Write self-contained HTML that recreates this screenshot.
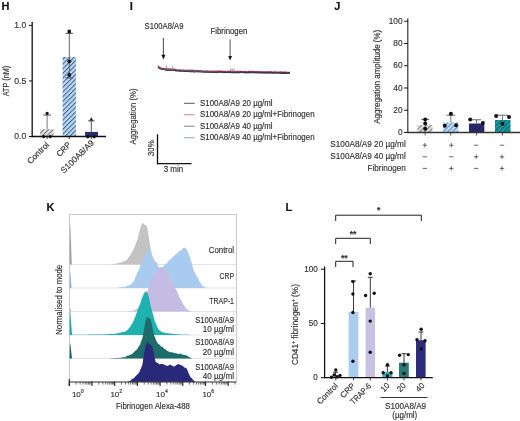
<!DOCTYPE html><html><head><meta charset="utf-8"><style>html,body{margin:0;padding:0;background:#fff;width:520px;height:421px;overflow:hidden}svg{display:block;filter:blur(0.4px)}text{font-family:"Liberation Sans",sans-serif;stroke:currentColor;stroke-width:0.15px}</style></head><body>
<svg width="520" height="421" viewBox="0 0 520 421">
<rect width="520" height="421" fill="#fff"/>
<defs>
<pattern id="hg" patternUnits="userSpaceOnUse" width="3.3" height="3.3" patternTransform="rotate(45)"><rect width="3.3" height="3.3" fill="#e2e2e2"/><rect x="0" y="0" width="1.1" height="3.3" fill="#777777"/></pattern>
<pattern id="hb" patternUnits="userSpaceOnUse" width="3.3" height="3.3" patternTransform="rotate(45)"><rect width="3.3" height="3.3" fill="#c0daf5"/><rect x="0" y="0" width="1.1" height="3.3" fill="#41658f"/></pattern>
<pattern id="jg" patternUnits="userSpaceOnUse" width="3.3" height="3.3" patternTransform="rotate(45)"><rect width="3.3" height="3.3" fill="#e4e4e4"/><rect x="0" y="0" width="1.3" height="3.3" fill="#8a8a8a"/></pattern>
<pattern id="jb" patternUnits="userSpaceOnUse" width="3.3" height="3.3" patternTransform="rotate(45)"><rect width="3.3" height="3.3" fill="#c8def3"/><rect x="0" y="0" width="1.3" height="3.3" fill="#6a98cf"/></pattern>
<pattern id="jn" patternUnits="userSpaceOnUse" width="3.3" height="3.3" patternTransform="rotate(45)"><rect width="3.3" height="3.3" fill="#2e2c72"/><rect x="0" y="0" width="1.3" height="3.3" fill="#23215a"/></pattern>
<pattern id="jt" patternUnits="userSpaceOnUse" width="3.3" height="3.3" patternTransform="rotate(45)"><rect width="3.3" height="3.3" fill="#1b9ea3"/><rect x="0" y="0" width="1.3" height="3.3" fill="#0f6a70"/></pattern>
</defs>
<text x="1.5" y="10" font-size="11" text-anchor="start" fill="#111" color="#111" font-weight="bold">H</text>
<line x1="32.20" y1="22.00" x2="32.20" y2="137.20" stroke="#111" stroke-width="1.3"/>
<line x1="29.00" y1="25.40" x2="32.20" y2="25.40" stroke="#111" stroke-width="1"/>
<text x="26.300000000000004" y="28.0" font-size="9.03" text-anchor="end" fill="#303030" color="#303030" textLength="11.95" lengthAdjust="spacingAndGlyphs">1.0</text>
<line x1="29.00" y1="80.95" x2="32.20" y2="80.95" stroke="#111" stroke-width="1"/>
<text x="26.300000000000004" y="83.55" font-size="9.03" text-anchor="end" fill="#303030" color="#303030" textLength="11.95" lengthAdjust="spacingAndGlyphs">0.5</text>
<line x1="29.00" y1="136.50" x2="32.20" y2="136.50" stroke="#111" stroke-width="1"/>
<text x="26.300000000000004" y="139.1" font-size="9.03" text-anchor="end" fill="#303030" color="#303030" textLength="11.95" lengthAdjust="spacingAndGlyphs">0.0</text>
<text transform="translate(9.2,81) rotate(-90)" x="0" y="0" font-size="8.61" text-anchor="middle" fill="#303030" color="#303030" textLength="30.5" lengthAdjust="spacingAndGlyphs">ATP (nM)</text>
<rect x="40.1" y="129.2" width="13.5" height="7.3" fill="url(#hg)"/>
<rect x="62.6" y="57" width="13.3" height="79.5" fill="url(#hb)"/>
<rect x="85.1" y="131.9" width="12.9" height="4.6" fill="#2b2b6e"/>
<line x1="47.10" y1="129.20" x2="47.10" y2="115.10" stroke="#777" stroke-width="1"/>
<line x1="43.30" y1="115.10" x2="50.90" y2="115.10" stroke="#555" stroke-width="1"/>
<circle cx="47.1" cy="113.3" r="1.6" fill="#111"/>
<line x1="69.30" y1="75.00" x2="69.30" y2="33.40" stroke="#666" stroke-width="1"/>
<line x1="65.60" y1="33.40" x2="73.00" y2="33.40" stroke="#555" stroke-width="1"/>
<line x1="65.60" y1="77.90" x2="73.00" y2="77.90" stroke="#2c3f5c" stroke-width="1"/>
<rect x="67.6" y="29.8" width="3.3" height="3.3" fill="#111"/>
<circle cx="69.3" cy="61.3" r="1.9" fill="#111"/>
<circle cx="69.3" cy="75" r="1.9" fill="#111"/>
<line x1="91.30" y1="131.90" x2="91.30" y2="120.90" stroke="#555" stroke-width="1"/>
<line x1="88.20" y1="120.90" x2="94.60" y2="120.90" stroke="#444" stroke-width="1"/>
<polygon points="91.3,117.2 89.5,120.4 93.1,120.4" fill="#111"/>
<line x1="31.50" y1="136.50" x2="106.00" y2="136.50" stroke="#111" stroke-width="1.4"/>
<line x1="47.10" y1="136.50" x2="47.10" y2="139.00" stroke="#111" stroke-width="0.8"/>
<line x1="69.30" y1="136.50" x2="69.30" y2="139.00" stroke="#111" stroke-width="0.8"/>
<line x1="91.30" y1="136.50" x2="91.30" y2="139.00" stroke="#111" stroke-width="0.8"/>
<circle cx="43.7" cy="136.6" r="1.6" fill="#111"/>
<circle cx="50.2" cy="136.6" r="1.6" fill="#111"/>
<circle cx="87.8" cy="136.8" r="1.6" fill="#111"/>
<circle cx="94.2" cy="136.8" r="1.6" fill="#111"/>
<text transform="translate(49.7,145.3) rotate(-45)" x="0" y="0" font-size="8.4" text-anchor="end" fill="#303030" color="#303030" textLength="27.3" lengthAdjust="spacingAndGlyphs">Control</text>
<text transform="translate(71.6,145.3) rotate(-45)" x="0" y="0" font-size="8.4" text-anchor="end" fill="#303030" color="#303030" textLength="16.89" lengthAdjust="spacingAndGlyphs">CRP</text>
<text transform="translate(94.5,143.4) rotate(-45)" x="0" y="0" font-size="8.4" text-anchor="end" fill="#303030" color="#303030" textLength="43" lengthAdjust="spacingAndGlyphs">S100A8/A9</text>
<text x="129.8" y="10" font-size="11" text-anchor="start" fill="#111" color="#111" font-weight="bold">I</text>
<text x="144.5" y="29.0" font-size="8.19" text-anchor="start" fill="#303030" color="#303030" textLength="39" lengthAdjust="spacingAndGlyphs">S100A8/A9</text>
<text x="210.5" y="33.9" font-size="8.19" text-anchor="start" fill="#303030" color="#303030" textLength="36.8" lengthAdjust="spacingAndGlyphs">Fibrinogen</text>
<line x1="163.40" y1="38.00" x2="163.40" y2="56.00" stroke="#555" stroke-width="1.1"/>
<polygon points="163.4,59.4 161.3,54.7 165.5,54.7" fill="#1a1a1a"/>
<line x1="230.10" y1="39.60" x2="230.10" y2="57.00" stroke="#666" stroke-width="1.1"/>
<polygon points="230.1,60.6 228.2,55.9 232.1,55.9" fill="#1a1a1a"/>
<polyline points="159.00,66.91 160.20,67.62 161.40,68.15 162.60,68.45 163.80,68.53 165.00,68.85 166.20,68.40 167.40,68.75 168.60,69.12 169.80,69.03 171.00,69.26 172.20,68.87 173.40,69.17 174.60,69.12 175.80,69.37 177.00,69.46" fill="none" stroke="#d9545c" stroke-width="1.1" stroke-opacity="0.9" stroke-linejoin="round"/>
<polyline points="158.00,66.56 159.20,67.30 160.40,67.97 161.60,68.71 162.80,68.85 164.00,68.75 165.20,69.26 166.40,69.02 167.60,69.34 168.80,69.18 170.00,69.20 171.20,69.72 172.40,69.47 173.60,69.56 174.80,70.03 176.00,70.05 177.20,69.83 178.40,70.23 179.60,70.10 180.80,70.24 182.00,70.07 183.20,70.51 184.40,70.46 185.60,70.66 186.80,70.67 188.00,70.42 189.20,70.50 190.40,70.45 191.60,70.49 192.80,70.49 194.00,70.66 195.20,70.86 196.40,70.61 197.60,70.99 198.80,70.87 200.00,70.90 201.20,71.21 202.40,71.09 203.60,71.05 204.80,71.18 206.00,71.32 207.20,71.01 208.40,71.49 209.60,71.04 210.80,71.42 212.00,71.48 213.20,71.09 214.40,71.49 215.60,71.30 216.80,71.43 218.00,71.16 219.20,71.20 220.40,71.29 221.60,71.69 222.80,71.33 224.00,71.63 225.20,71.74 226.40,71.76 227.60,71.48 228.80,71.51 230.00,71.61 231.20,71.75 232.40,71.44 233.60,71.77 234.80,71.81 236.00,71.86 237.20,71.46 238.40,71.93 239.60,71.52 240.80,71.66 242.00,71.82 243.20,71.99 244.40,71.71 245.60,72.02 246.80,71.85 248.00,71.75 249.20,71.76 250.40,71.71 251.60,71.68 252.80,71.73 254.00,72.01 255.20,72.18 256.40,71.78 257.60,71.74 258.80,72.23 260.00,72.02 261.20,71.97 262.40,71.90 263.60,72.09 264.80,72.23 266.00,72.06 267.20,72.06 268.40,71.89 269.60,72.33 270.80,71.91 272.00,72.15 273.20,72.34 274.40,72.00 275.60,72.32 276.80,72.45 278.00,72.30 279.20,72.40 280.40,72.07 281.60,72.25 282.80,72.12 284.00,72.49 285.20,72.23 286.40,72.32 287.60,72.61 288.80,72.55 290.00,72.63" fill="none" stroke="#d24a55" stroke-width="1.8" stroke-opacity="0.9" stroke-linejoin="round"/>
<polyline points="158.00,67.32 159.20,67.98 160.40,68.79 161.60,69.04 162.80,69.12 164.00,69.41 165.20,69.42 166.40,69.66 167.60,70.17 168.80,70.24 170.00,70.09 171.20,70.08 172.40,70.05 173.60,69.96 174.80,70.18 176.00,70.61 177.20,70.74 178.40,70.46 179.60,70.83 180.80,70.89 182.00,70.91 183.20,70.96 184.40,71.10 185.60,70.88 186.80,71.17 188.00,70.92 189.20,71.11 190.40,71.35 191.60,71.35 192.80,71.12 194.00,71.62 195.20,71.46 196.40,71.46 197.60,71.11 198.80,71.53 200.00,71.38 201.20,71.72 202.40,71.62 203.60,71.92 204.80,71.85 206.00,71.97 207.20,71.68 208.40,71.91 209.60,71.99 210.80,72.07 212.00,71.76 213.20,72.12 214.40,72.16 215.60,72.05 216.80,72.27 218.00,72.28 219.20,71.99 220.40,72.02 221.60,71.78 222.80,72.27 224.00,72.36 225.20,72.06 226.40,72.23 227.60,72.27 228.80,72.29 230.00,71.92 231.20,72.36 232.40,72.24 233.60,72.31 234.80,72.16 236.00,72.32 237.20,72.44 238.40,72.36 239.60,72.43 240.80,71.96 242.00,72.07 243.20,72.28 244.40,72.45 245.60,72.16 246.80,72.50 248.00,72.48 249.20,72.09 250.40,72.40 251.60,72.25 252.80,72.14 254.00,72.21 255.20,72.36 256.40,72.28 257.60,72.30 258.80,72.21 260.00,72.53 261.20,72.48 262.40,72.66 263.60,72.66 264.80,72.43 266.00,72.91 267.20,72.29 268.40,72.59 269.60,72.52 270.80,72.63 272.00,72.44 273.20,72.96 274.40,72.65 275.60,72.43 276.80,72.85 278.00,72.50 279.20,72.83 280.40,72.71 281.60,72.89 282.80,73.17 284.00,73.09 285.20,72.82 286.40,73.12 287.60,73.01 288.80,72.84 290.00,72.69" fill="none" stroke="#3b2f45" stroke-width="1.7" stroke-opacity="0.9" stroke-linejoin="round"/>
<polyline points="165.00,70.06 166.20,70.12 167.40,70.44 168.60,70.53 169.80,70.40 171.00,70.33 172.20,70.74 173.40,70.29 174.60,70.44 175.80,70.79 177.00,70.89 178.20,70.68 179.40,71.04 180.60,71.27 181.80,71.03 183.00,71.14 184.20,71.09 185.40,71.19 186.60,71.65 187.80,71.34 189.00,71.74 190.20,71.76 191.40,71.61 192.60,71.46 193.80,71.94 195.00,71.70 196.20,71.70 197.40,71.69 198.60,72.13 199.80,71.89 201.00,71.81 202.20,71.97 203.40,71.81 204.60,72.16 205.80,72.08 207.00,72.01 208.20,72.32 209.40,72.37 210.60,71.90 211.80,72.23 213.00,72.09 214.20,72.51 215.40,72.44 216.60,72.13 217.80,72.17 219.00,72.12 220.20,72.64 221.40,72.24 222.60,72.45 223.80,72.39 225.00,72.51 226.20,72.50 227.40,72.60 228.60,72.25 229.80,72.65 231.00,72.39 232.20,72.55 233.40,72.45 234.60,72.44 235.80,72.60 237.00,72.57 238.20,72.53 239.40,72.77 240.60,72.70 241.80,72.38 243.00,72.52 244.20,72.66 245.40,72.96 246.60,72.95 247.80,72.76 249.00,72.46 250.20,72.94 251.40,72.74 252.60,72.85 253.80,72.94 255.00,72.91 256.20,72.84 257.40,73.11 258.60,72.81 259.80,72.83 261.00,73.12 262.20,72.75 263.40,72.82 264.60,73.16 265.80,72.72 267.00,73.19 268.20,73.12 269.40,72.98 270.60,72.91 271.80,73.22 273.00,73.32 274.20,72.87 275.40,73.09 276.60,73.15 277.80,73.13 279.00,73.05 280.20,72.96 281.40,73.23 282.60,73.38 283.80,72.95 285.00,73.07 286.20,73.44 287.40,73.43 288.60,73.37 289.80,73.01" fill="none" stroke="#303048" stroke-width="0.9" stroke-opacity="0.6" stroke-linejoin="round"/>
<polyline points="158.00,67.23 159.20,68.03 160.40,68.68 161.60,68.93 162.80,68.74 164.00,69.43 165.20,69.25 166.40,69.59 167.60,69.85 168.80,69.79 170.00,69.53 171.20,69.71 172.40,70.17 173.60,69.79 174.80,70.15 176.00,70.11 177.20,70.03 178.40,70.38 179.60,70.10 180.80,70.21 182.00,70.45 183.20,70.34 184.40,70.40 185.60,70.77 186.80,70.92 188.00,71.05 189.20,70.65 190.40,70.88 191.60,70.85 192.80,71.07 194.00,71.05 195.20,71.37 196.40,71.08 197.60,70.94 198.80,71.37 200.00,71.09 201.20,71.43 202.40,71.40 203.60,71.69 204.80,71.52 206.00,71.59 207.20,71.39 208.40,71.59 209.60,71.43 210.80,71.74 212.00,71.62 213.20,71.41 214.40,71.49" fill="none" stroke="#6a9998" stroke-width="0.8" stroke-opacity="0.5" stroke-linejoin="round"/>
<line x1="158.30" y1="67.16" x2="158.30" y2="65.16" stroke="#555" stroke-width="0.7"/>
<line x1="166.50" y1="69.41" x2="166.50" y2="65.41" stroke="#777" stroke-width="0.7"/>
<line x1="172.50" y1="69.83" x2="172.50" y2="65.83" stroke="#7aa9a8" stroke-width="0.7"/>
<line x1="230.60" y1="71.81" x2="230.60" y2="68.41" stroke="#8a6f73" stroke-width="0.7"/>
<line x1="232.20" y1="71.83" x2="232.20" y2="68.43" stroke="#8a6f73" stroke-width="0.7"/>
<line x1="234.10" y1="71.85" x2="234.10" y2="68.45" stroke="#8a6f73" stroke-width="0.7"/>
<line x1="184.00" y1="103.30" x2="194.60" y2="103.30" stroke="#444" stroke-width="0.9"/>
<text x="200" y="105.89999999999999" font-size="8.29" text-anchor="start" fill="#303030" color="#303030" textLength="72.62" lengthAdjust="spacingAndGlyphs">S100A8/A9 20 µg/ml</text>
<line x1="184.00" y1="114.70" x2="194.60" y2="114.70" stroke="#dba3a6" stroke-width="1.4"/>
<text x="200" y="117.3" font-size="8.29" text-anchor="start" fill="#303030" color="#303030" textLength="114.56" lengthAdjust="spacingAndGlyphs">S100A8/A9 20 µg/ml+Fibrinogen</text>
<line x1="184.00" y1="126.20" x2="194.60" y2="126.20" stroke="#74749a" stroke-width="0.9"/>
<text x="200" y="128.8" font-size="8.29" text-anchor="start" fill="#303030" color="#303030" textLength="72.62" lengthAdjust="spacingAndGlyphs">S100A8/A9 40 µg/ml</text>
<line x1="184.00" y1="137.70" x2="194.60" y2="137.70" stroke="#a9c2bd" stroke-width="1.4"/>
<text x="200" y="140.29999999999998" font-size="8.29" text-anchor="start" fill="#303030" color="#303030" textLength="114.56" lengthAdjust="spacingAndGlyphs">S100A8/A9 40 µg/ml+Fibrinogen</text>
<text transform="translate(136.4,116.5) rotate(-90)" x="0" y="0" font-size="8.19" text-anchor="middle" fill="#303030" color="#303030" textLength="56" lengthAdjust="spacingAndGlyphs">Aggregation (%)</text>
<line x1="157.50" y1="134.30" x2="157.50" y2="164.30" stroke="#111" stroke-width="1.3"/>
<line x1="156.90" y1="163.70" x2="191.50" y2="163.70" stroke="#111" stroke-width="1.3"/>
<text transform="translate(153.8,148.2) rotate(-90)" x="0" y="0" font-size="8.19" text-anchor="middle" fill="#303030" color="#303030" textLength="15.61" lengthAdjust="spacingAndGlyphs">30%</text>
<text x="163.7" y="172.4" font-size="8.19" text-anchor="start" fill="#303030" color="#303030" textLength="19.5" lengthAdjust="spacingAndGlyphs">3 min</text>
<text x="334.2" y="9.8" font-size="11" text-anchor="start" fill="#111" color="#111" font-weight="bold">J</text>
<line x1="407.80" y1="18.20" x2="407.80" y2="133.00" stroke="#333" stroke-width="1.2"/>
<line x1="404.20" y1="132.50" x2="407.80" y2="132.50" stroke="#111" stroke-width="1"/>
<text x="402.59999999999997" y="135.1" font-size="8.72" text-anchor="end" fill="#303030" color="#303030" textLength="4.62" lengthAdjust="spacingAndGlyphs">0</text>
<line x1="404.20" y1="110.25" x2="407.80" y2="110.25" stroke="#111" stroke-width="1"/>
<text x="402.59999999999997" y="112.85" font-size="8.72" text-anchor="end" fill="#303030" color="#303030" textLength="9.23" lengthAdjust="spacingAndGlyphs">20</text>
<line x1="404.20" y1="88.00" x2="407.80" y2="88.00" stroke="#111" stroke-width="1"/>
<text x="402.59999999999997" y="90.6" font-size="8.72" text-anchor="end" fill="#303030" color="#303030" textLength="9.23" lengthAdjust="spacingAndGlyphs">40</text>
<line x1="404.20" y1="65.75" x2="407.80" y2="65.75" stroke="#111" stroke-width="1"/>
<text x="402.59999999999997" y="68.35" font-size="8.72" text-anchor="end" fill="#303030" color="#303030" textLength="9.23" lengthAdjust="spacingAndGlyphs">60</text>
<line x1="404.20" y1="43.50" x2="407.80" y2="43.50" stroke="#111" stroke-width="1"/>
<text x="402.59999999999997" y="46.1" font-size="8.72" text-anchor="end" fill="#303030" color="#303030" textLength="9.23" lengthAdjust="spacingAndGlyphs">80</text>
<line x1="404.20" y1="21.25" x2="407.80" y2="21.25" stroke="#111" stroke-width="1"/>
<text x="402.59999999999997" y="23.85" font-size="8.72" text-anchor="end" fill="#303030" color="#303030" textLength="13.85" lengthAdjust="spacingAndGlyphs">100</text>
<text transform="translate(380.4,76.8) rotate(-90)" x="0" y="0" font-size="8.19" text-anchor="middle" fill="#303030" color="#303030" textLength="94" lengthAdjust="spacingAndGlyphs">Aggregation amplitude (%)</text>
<rect x="417.5" y="125" width="15" height="7.5" fill="url(#jg)"/>
<rect x="443" y="122.5" width="15.3" height="10" fill="url(#jb)"/>
<rect x="469" y="123.5" width="15.3" height="9" fill="url(#jn)"/>
<rect x="495" y="120" width="15.5" height="12.5" fill="url(#jt)"/>
<line x1="425.20" y1="125.00" x2="425.20" y2="119.40" stroke="#777" stroke-width="1"/>
<line x1="421.20" y1="119.40" x2="429.20" y2="119.40" stroke="#666" stroke-width="1"/>
<line x1="450.80" y1="122.50" x2="450.80" y2="115.20" stroke="#777" stroke-width="1"/>
<line x1="446.50" y1="115.20" x2="455.20" y2="115.20" stroke="#666" stroke-width="1"/>
<line x1="476.50" y1="123.50" x2="476.50" y2="119.80" stroke="#777" stroke-width="1"/>
<line x1="470.50" y1="119.80" x2="481.00" y2="119.80" stroke="#666" stroke-width="1"/>
<line x1="502.50" y1="120.00" x2="502.50" y2="115.20" stroke="#777" stroke-width="1"/>
<line x1="497.00" y1="115.20" x2="508.00" y2="115.20" stroke="#666" stroke-width="1"/>
<circle cx="425.2" cy="119.4" r="2.0" fill="#111"/>
<circle cx="425.2" cy="123.5" r="2.0" fill="#111"/>
<circle cx="425.2" cy="128.7" r="2.0" fill="#111"/>
<circle cx="450.9" cy="113.7" r="2.0" fill="#111"/>
<circle cx="444.8" cy="125.8" r="2.0" fill="#111"/>
<circle cx="456.1" cy="125.2" r="2.0" fill="#111"/>
<circle cx="470.2" cy="119.4" r="2.0" fill="#111"/>
<circle cx="482.8" cy="122.9" r="2.0" fill="#111"/>
<circle cx="496.1" cy="116" r="2.0" fill="#111"/>
<circle cx="509" cy="116.9" r="2.0" fill="#111"/>
<circle cx="502.5" cy="123.8" r="2.0" fill="#111"/>
<line x1="407.20" y1="132.50" x2="520.00" y2="132.50" stroke="#333" stroke-width="1.3"/>
<line x1="425.20" y1="132.50" x2="425.20" y2="135.50" stroke="#333" stroke-width="0.8"/>
<line x1="450.80" y1="132.50" x2="450.80" y2="135.50" stroke="#333" stroke-width="0.8"/>
<line x1="476.50" y1="132.50" x2="476.50" y2="135.50" stroke="#333" stroke-width="0.8"/>
<line x1="502.50" y1="132.50" x2="502.50" y2="135.50" stroke="#333" stroke-width="0.8"/>
<line x1="422.60" y1="145.20" x2="427.00" y2="145.20" stroke="#444" stroke-width="0.8"/>
<line x1="424.80" y1="143.00" x2="424.80" y2="147.40" stroke="#444" stroke-width="0.8"/>
<line x1="449.10" y1="145.20" x2="453.50" y2="145.20" stroke="#444" stroke-width="0.8"/>
<line x1="451.30" y1="143.00" x2="451.30" y2="147.40" stroke="#444" stroke-width="0.8"/>
<line x1="474.00" y1="145.20" x2="478.40" y2="145.20" stroke="#444" stroke-width="0.8"/>
<line x1="499.80" y1="145.20" x2="504.20" y2="145.20" stroke="#444" stroke-width="0.8"/>
<line x1="422.60" y1="156.80" x2="427.00" y2="156.80" stroke="#444" stroke-width="0.8"/>
<line x1="449.10" y1="156.80" x2="453.50" y2="156.80" stroke="#444" stroke-width="0.8"/>
<line x1="474.00" y1="156.80" x2="478.40" y2="156.80" stroke="#444" stroke-width="0.8"/>
<line x1="476.20" y1="154.60" x2="476.20" y2="159.00" stroke="#444" stroke-width="0.8"/>
<line x1="499.80" y1="156.80" x2="504.20" y2="156.80" stroke="#444" stroke-width="0.8"/>
<line x1="502.00" y1="154.60" x2="502.00" y2="159.00" stroke="#444" stroke-width="0.8"/>
<line x1="422.60" y1="168.40" x2="427.00" y2="168.40" stroke="#444" stroke-width="0.8"/>
<line x1="449.10" y1="168.40" x2="453.50" y2="168.40" stroke="#444" stroke-width="0.8"/>
<line x1="451.30" y1="166.20" x2="451.30" y2="170.60" stroke="#444" stroke-width="0.8"/>
<line x1="474.00" y1="168.40" x2="478.40" y2="168.40" stroke="#444" stroke-width="0.8"/>
<line x1="499.80" y1="168.40" x2="504.20" y2="168.40" stroke="#444" stroke-width="0.8"/>
<line x1="502.00" y1="166.20" x2="502.00" y2="170.60" stroke="#444" stroke-width="0.8"/>
<text x="405.8" y="147.4" font-size="8.61" text-anchor="end" fill="#303030" color="#303030" textLength="75.5" lengthAdjust="spacingAndGlyphs">S100A8/A9 20 µg/ml</text>
<text x="405.8" y="159.1" font-size="8.61" text-anchor="end" fill="#303030" color="#303030" textLength="75.5" lengthAdjust="spacingAndGlyphs">S100A8/A9 40 µg/ml</text>
<text x="405.8" y="170.6" font-size="8.61" text-anchor="end" fill="#303030" color="#303030" textLength="38.2" lengthAdjust="spacingAndGlyphs">Fibrinogen</text>
<text x="46.4" y="210.8" font-size="11" text-anchor="start" fill="#111" color="#111" font-weight="bold">K</text>
<rect x="69.5" y="214.5" width="167" height="167.5" fill="none" stroke="#c9c9c9" stroke-width="1"/>
<line x1="69.50" y1="264.50" x2="236.50" y2="264.50" stroke="#dcdcdc" stroke-width="0.8"/>
<line x1="69.50" y1="288.00" x2="236.50" y2="288.00" stroke="#dcdcdc" stroke-width="0.8"/>
<line x1="69.50" y1="311.50" x2="236.50" y2="311.50" stroke="#dcdcdc" stroke-width="0.8"/>
<line x1="69.50" y1="335.00" x2="236.50" y2="335.00" stroke="#dcdcdc" stroke-width="0.8"/>
<line x1="69.50" y1="358.50" x2="236.50" y2="358.50" stroke="#dcdcdc" stroke-width="0.8"/>
<polygon points="111.00,264.50 111.00,264.30 111.83,264.18 112.67,264.06 113.50,263.94 114.33,263.82 115.17,263.70 116.00,263.58 116.86,263.38 117.71,263.19 118.57,262.99 119.43,262.80 120.29,262.60 121.14,262.40 122.00,262.21 122.87,261.86 123.73,260.99 124.60,261.40 125.47,260.91 126.33,259.96 127.20,259.74 128.18,257.87 129.15,256.50 130.12,255.20 131.10,254.26 132.07,251.82 133.05,250.74 134.03,247.84 135.00,246.06 135.90,243.30 136.80,241.41 137.70,238.32 138.57,234.98 139.43,231.36 140.30,228.24 141.50,224.57 142.90,222.54 144.00,224.14 145.30,225.19 146.80,225.63 148.00,232.51 149.40,240.90 150.80,249.15 151.65,252.97 152.50,256.02 153.33,257.73 154.17,259.52 155.00,261.23 155.93,262.05 156.85,262.77 157.77,263.48 158.70,264.20 158.70,264.50" fill="#c3c3c3" fill-opacity="1"/>
<polygon points="118.00,288.00 118.00,287.80 118.86,287.69 119.71,287.57 120.57,287.46 121.43,287.34 122.29,287.23 123.14,287.11 124.00,287.00 124.86,286.71 125.71,286.43 126.57,286.14 127.43,285.86 128.29,285.57 129.14,284.90 130.00,284.95 130.80,284.50 131.60,283.63 132.40,282.86 133.20,281.73 134.00,281.33 134.88,278.91 135.75,276.29 136.62,274.58 137.50,272.00 138.50,270.48 139.50,267.99 140.50,264.82 141.57,262.69 142.63,261.09 143.70,258.37 144.63,256.28 145.57,254.22 146.50,252.33 147.60,251.39 148.70,250.51 149.60,250.43 150.50,252.00 151.57,254.39 152.63,257.61 153.70,260.35 154.52,261.00 155.35,262.91 156.18,263.71 157.00,264.96 158.00,266.05 159.00,267.13 160.00,267.57 161.00,266.83 162.00,267.21 163.00,266.96 164.07,265.28 165.13,264.58 166.20,263.85 167.15,263.09 168.10,261.19 169.05,260.61 170.00,260.02 170.83,258.87 171.67,258.24 172.50,257.55 173.33,256.51 174.17,255.52 175.00,255.10 175.80,254.33 176.60,253.43 177.40,253.29 178.20,252.05 179.00,251.48 179.88,251.09 180.75,250.45 181.62,249.83 182.50,248.87 183.33,247.86 184.17,247.95 185.00,247.45 186.50,249.24 187.60,251.64 188.70,253.71 189.85,257.34 191.00,261.09 191.90,263.61 192.80,267.19 193.70,270.40 194.52,271.38 195.35,273.78 196.18,275.48 197.00,276.58 198.00,278.34 199.00,280.77 200.00,282.19 201.00,283.62 202.00,285.30 203.00,286.50 204.00,286.93 205.00,287.37 206.00,287.80 206.00,288.00" fill="#a8cbef" fill-opacity="1"/>
<polygon points="127.50,311.50 127.50,311.30 128.42,311.21 129.33,311.12 130.25,311.04 131.17,310.95 132.08,310.86 133.00,310.77 133.90,310.41 134.80,310.05 135.70,309.69 136.60,309.33 137.50,308.58 138.38,308.04 139.25,306.49 140.12,306.03 141.00,304.85 142.00,302.95 143.00,301.54 144.00,299.82 144.88,297.11 145.75,295.51 146.62,293.47 147.50,291.22 148.50,288.09 149.50,284.40 150.50,281.24 151.50,278.30 152.38,276.89 153.25,276.33 154.12,274.90 155.00,273.51 156.00,272.21 157.00,271.17 158.00,269.76 159.07,269.30 160.13,268.07 161.20,267.80 162.02,268.28 162.85,268.79 163.68,268.80 164.50,269.10 165.50,270.45 166.50,271.92 167.50,272.81 168.32,274.96 169.15,276.50 169.98,278.36 170.80,280.81 171.77,281.68 172.73,283.42 173.70,285.53 174.52,287.01 175.35,288.21 176.18,289.77 177.00,291.07 178.00,293.54 179.00,296.00 180.00,298.15 181.00,299.94 182.00,301.75 183.00,304.26 184.07,305.36 185.13,307.21 186.20,309.13 187.02,309.24 187.85,309.75 188.68,310.26 189.50,310.77 190.50,310.98 191.50,311.19 192.50,311.40 192.50,311.50" fill="#c4bce2" fill-opacity="1"/>
<polygon points="72.00,335.00 72.00,334.80 72.80,334.79 73.60,334.78 74.40,334.77 75.20,334.77 76.00,334.76 76.80,334.75 77.60,334.74 78.40,334.73 79.20,334.72 80.00,334.71 80.80,334.71 81.60,334.70 82.40,334.69 83.20,334.68 84.00,334.67 84.80,334.66 85.60,334.65 86.40,334.65 87.20,334.64 88.00,334.63 88.80,334.62 89.60,334.61 90.40,334.60 91.20,334.59 92.00,334.59 92.80,334.58 93.60,334.57 94.40,334.56 95.20,334.55 96.00,334.54 96.80,334.53 97.60,334.53 98.40,334.52 99.20,334.51 100.00,334.50 100.83,334.46 101.67,334.42 102.50,334.38 103.33,334.34 104.17,334.31 105.00,334.27 105.83,334.23 106.67,334.19 107.50,334.15 108.33,334.11 109.17,334.07 110.00,334.03 110.83,333.99 111.67,333.96 112.50,333.92 113.33,333.88 114.17,333.84 115.00,333.80 115.86,333.63 116.71,333.46 117.57,333.29 118.43,333.11 119.29,332.94 120.14,332.77 121.00,332.60 121.80,331.99 122.60,332.11 123.40,332.24 124.20,331.95 125.00,331.76 126.00,330.76 127.00,330.50 128.00,329.54 129.00,327.99 130.00,327.35 131.00,325.10 132.00,324.28 133.00,322.49 134.00,319.52 135.00,317.19 135.83,315.56 136.67,312.81 137.50,310.65 138.33,308.32 139.17,306.17 140.00,304.14 141.00,301.51 142.00,297.68 143.00,296.00 144.00,293.06 144.85,292.54 145.70,291.55 146.50,291.48 147.30,292.66 148.15,294.84 149.00,297.46 150.50,304.89 151.45,309.05 152.40,312.57 153.45,315.91 154.50,320.38 155.33,322.62 156.17,324.04 157.00,326.44 158.00,328.15 159.00,329.94 160.00,330.59 160.83,331.36 161.67,332.12 162.50,332.02 163.33,332.44 164.17,332.50 165.00,332.80 165.88,332.93 166.75,333.05 167.62,333.18 168.50,333.30 169.38,333.43 170.25,333.55 171.12,333.68 172.00,333.80 172.80,333.87 173.60,333.94 174.40,334.01 175.20,334.08 176.00,334.15 176.80,334.22 177.60,334.29 178.40,334.36 179.20,334.43 180.00,334.50 180.83,334.53 181.67,334.57 182.50,334.60 183.33,334.63 184.17,334.67 185.00,334.70 185.83,334.73 186.67,334.77 187.50,334.80 188.33,334.83 189.17,334.87 190.00,334.90 190.00,335.00" fill="#1fb0b0" fill-opacity="1"/>
<polygon points="110.00,358.50 110.00,358.30 110.83,358.26 111.67,358.22 112.50,358.18 113.33,358.13 114.17,358.09 115.00,358.05 115.83,358.01 116.67,357.97 117.50,357.93 118.33,357.88 119.17,357.84 120.00,357.80 120.83,357.67 121.67,357.53 122.50,357.40 123.33,357.27 124.17,357.13 125.00,357.00 125.80,356.66 126.60,356.32 127.40,355.59 128.20,355.59 129.00,355.60 129.88,355.08 130.75,354.66 131.62,353.88 132.50,353.83 133.38,352.79 134.25,351.54 135.12,351.20 136.00,350.00 136.80,349.84 137.60,348.71 138.40,346.90 139.20,345.73 140.00,345.09 140.83,342.21 141.67,339.91 142.50,337.66 144.00,329.83 145.30,322.14 146.20,318.01 147.40,316.48 148.60,319.00 149.80,317.56 151.00,320.44 152.30,327.35 153.15,330.63 154.00,335.16 155.05,337.59 156.10,340.46 157.07,342.05 158.03,343.63 159.00,344.57 159.80,344.76 160.60,346.08 161.40,346.76 162.20,346.61 163.00,347.44 163.80,348.25 164.60,349.14 165.40,348.89 166.20,349.96 167.00,351.02 168.00,351.12 169.00,351.74 170.00,352.30 170.80,352.17 171.60,352.09 172.40,352.58 173.20,352.67 174.00,352.63 174.80,353.33 175.60,352.93 176.40,353.20 177.20,353.65 178.00,353.85 179.00,354.03 180.00,353.87 181.00,353.53 181.95,354.43 182.90,354.75 183.85,354.79 184.80,355.09 185.70,355.21 186.60,355.59 187.50,356.00 188.33,356.50 189.17,357.00 190.00,357.50 191.15,357.95 192.30,358.40 192.30,358.50" fill="#1d6c6c" fill-opacity="1"/>
<polygon points="128.00,382.00 128.00,381.60 129.00,381.19 130.00,380.77 131.00,380.36 132.07,379.10 133.13,378.49 134.20,377.94 135.10,376.82 136.00,375.85 136.90,374.89 137.80,373.92 138.80,373.12 139.80,371.09 140.80,368.78 141.70,366.40 142.60,363.76 143.70,355.54 144.60,350.58 145.50,346.34 146.70,343.16 147.90,342.13 149.00,343.91 150.30,344.41 151.15,344.97 152.00,346.43 153.00,349.47 153.80,353.89 154.80,358.69 155.60,361.70 157.10,362.65 157.90,363.04 158.70,363.65 159.50,364.55 160.30,363.87 161.10,364.28 161.90,364.05 162.77,364.12 163.63,364.31 164.50,365.02 165.32,365.34 166.15,365.45 166.98,365.87 167.80,365.93 168.70,365.14 169.60,364.76 170.50,364.81 171.32,365.22 172.15,365.78 172.98,366.27 173.80,366.51 174.90,366.13 176.00,365.22 176.83,364.83 177.67,364.55 178.50,363.81 179.30,364.54 180.10,365.01 180.90,365.01 182.50,365.67 183.45,366.47 184.40,367.48 185.20,367.82 186.00,368.14 186.80,368.42 188.00,371.67 189.20,374.47 190.00,376.13 190.80,377.54 191.60,377.88 192.75,379.50 193.90,380.60 195.00,381.80 195.00,382.00" fill="#29287a" fill-opacity="1"/>
<polygon points="69.6,264.5 69.9,224.5 70.3,224.5 71.79999999999998,264.5" fill="#a0a0a0"/>
<polygon points="69.6,288 69.9,272 70.3,272 71.6,288" fill="#8bb3e0"/>
<polygon points="69.6,311.5 69.9,308.5 70.3,308.5 71.39999999999999,311.5" fill="#b0a8d6"/>
<polygon points="69.6,335 69.9,312 70.3,312 71.99999999999999,335" fill="#17a5a5"/>
<polygon points="69.6,358.5 69.9,343.5 70.3,343.5 71.99999999999999,358.5" fill="#1a5f5f"/>
<text x="234" y="253.2" font-size="8.51" text-anchor="end" fill="#303030" color="#303030" textLength="25.2" lengthAdjust="spacingAndGlyphs">Control</text>
<text x="234" y="278.8" font-size="8.51" text-anchor="end" fill="#303030" color="#303030" textLength="14.5" lengthAdjust="spacingAndGlyphs">CRP</text>
<text x="234" y="303.7" font-size="8.51" text-anchor="end" fill="#303030" color="#303030" textLength="24.8" lengthAdjust="spacingAndGlyphs">TRAP-1</text>
<text x="234" y="322.5" font-size="8.51" text-anchor="end" fill="#303030" color="#303030" textLength="38.8" lengthAdjust="spacingAndGlyphs">S100A8/A9</text>
<text x="234" y="331.7" font-size="8.51" text-anchor="end" fill="#303030" color="#303030" textLength="31.23" lengthAdjust="spacingAndGlyphs">10 µg/ml</text>
<text x="234" y="345.3" font-size="8.51" text-anchor="end" fill="#303030" color="#303030" textLength="38.8" lengthAdjust="spacingAndGlyphs">S100A8/A9</text>
<text x="234" y="355" font-size="8.51" text-anchor="end" fill="#303030" color="#303030" textLength="31.23" lengthAdjust="spacingAndGlyphs">20 µg/ml</text>
<text x="234" y="370.2" font-size="8.51" text-anchor="end" fill="#303030" color="#303030" textLength="38.8" lengthAdjust="spacingAndGlyphs">S100A8/A9</text>
<text x="234" y="379" font-size="8.51" text-anchor="end" fill="#303030" color="#303030" textLength="31.23" lengthAdjust="spacingAndGlyphs">40 µg/ml</text>
<line x1="69.50" y1="382.00" x2="236.50" y2="382.00" stroke="#444" stroke-width="1.0"/>
<line x1="69.30" y1="381.50" x2="69.30" y2="386.00" stroke="#222" stroke-width="1.1"/>
<line x1="76.13" y1="382.00" x2="76.13" y2="384.60" stroke="#333" stroke-width="0.7"/>
<line x1="80.13" y1="382.00" x2="80.13" y2="384.60" stroke="#333" stroke-width="0.7"/>
<line x1="82.97" y1="382.00" x2="82.97" y2="384.60" stroke="#333" stroke-width="0.7"/>
<line x1="85.17" y1="382.00" x2="85.17" y2="384.60" stroke="#333" stroke-width="0.7"/>
<line x1="86.96" y1="382.00" x2="86.96" y2="384.60" stroke="#333" stroke-width="0.7"/>
<line x1="88.48" y1="382.00" x2="88.48" y2="384.60" stroke="#333" stroke-width="0.7"/>
<line x1="89.80" y1="382.00" x2="89.80" y2="384.60" stroke="#333" stroke-width="0.7"/>
<line x1="90.96" y1="382.00" x2="90.96" y2="384.60" stroke="#333" stroke-width="0.7"/>
<line x1="92.00" y1="381.50" x2="92.00" y2="386.00" stroke="#222" stroke-width="1.1"/>
<line x1="98.83" y1="382.00" x2="98.83" y2="384.60" stroke="#333" stroke-width="0.7"/>
<line x1="102.83" y1="382.00" x2="102.83" y2="384.60" stroke="#333" stroke-width="0.7"/>
<line x1="105.67" y1="382.00" x2="105.67" y2="384.60" stroke="#333" stroke-width="0.7"/>
<line x1="107.87" y1="382.00" x2="107.87" y2="384.60" stroke="#333" stroke-width="0.7"/>
<line x1="109.66" y1="382.00" x2="109.66" y2="384.60" stroke="#333" stroke-width="0.7"/>
<line x1="111.18" y1="382.00" x2="111.18" y2="384.60" stroke="#333" stroke-width="0.7"/>
<line x1="112.50" y1="382.00" x2="112.50" y2="384.60" stroke="#333" stroke-width="0.7"/>
<line x1="113.66" y1="382.00" x2="113.66" y2="384.60" stroke="#333" stroke-width="0.7"/>
<line x1="114.70" y1="381.50" x2="114.70" y2="386.00" stroke="#222" stroke-width="1.1"/>
<line x1="121.53" y1="382.00" x2="121.53" y2="384.60" stroke="#333" stroke-width="0.7"/>
<line x1="125.53" y1="382.00" x2="125.53" y2="384.60" stroke="#333" stroke-width="0.7"/>
<line x1="128.37" y1="382.00" x2="128.37" y2="384.60" stroke="#333" stroke-width="0.7"/>
<line x1="130.57" y1="382.00" x2="130.57" y2="384.60" stroke="#333" stroke-width="0.7"/>
<line x1="132.36" y1="382.00" x2="132.36" y2="384.60" stroke="#333" stroke-width="0.7"/>
<line x1="133.88" y1="382.00" x2="133.88" y2="384.60" stroke="#333" stroke-width="0.7"/>
<line x1="135.20" y1="382.00" x2="135.20" y2="384.60" stroke="#333" stroke-width="0.7"/>
<line x1="136.36" y1="382.00" x2="136.36" y2="384.60" stroke="#333" stroke-width="0.7"/>
<line x1="137.40" y1="381.50" x2="137.40" y2="386.00" stroke="#222" stroke-width="1.1"/>
<line x1="144.23" y1="382.00" x2="144.23" y2="384.60" stroke="#333" stroke-width="0.7"/>
<line x1="148.23" y1="382.00" x2="148.23" y2="384.60" stroke="#333" stroke-width="0.7"/>
<line x1="151.07" y1="382.00" x2="151.07" y2="384.60" stroke="#333" stroke-width="0.7"/>
<line x1="153.27" y1="382.00" x2="153.27" y2="384.60" stroke="#333" stroke-width="0.7"/>
<line x1="155.06" y1="382.00" x2="155.06" y2="384.60" stroke="#333" stroke-width="0.7"/>
<line x1="156.58" y1="382.00" x2="156.58" y2="384.60" stroke="#333" stroke-width="0.7"/>
<line x1="157.90" y1="382.00" x2="157.90" y2="384.60" stroke="#333" stroke-width="0.7"/>
<line x1="159.06" y1="382.00" x2="159.06" y2="384.60" stroke="#333" stroke-width="0.7"/>
<line x1="160.10" y1="381.50" x2="160.10" y2="386.00" stroke="#222" stroke-width="1.1"/>
<line x1="166.93" y1="382.00" x2="166.93" y2="384.60" stroke="#333" stroke-width="0.7"/>
<line x1="170.93" y1="382.00" x2="170.93" y2="384.60" stroke="#333" stroke-width="0.7"/>
<line x1="173.77" y1="382.00" x2="173.77" y2="384.60" stroke="#333" stroke-width="0.7"/>
<line x1="175.97" y1="382.00" x2="175.97" y2="384.60" stroke="#333" stroke-width="0.7"/>
<line x1="177.76" y1="382.00" x2="177.76" y2="384.60" stroke="#333" stroke-width="0.7"/>
<line x1="179.28" y1="382.00" x2="179.28" y2="384.60" stroke="#333" stroke-width="0.7"/>
<line x1="180.60" y1="382.00" x2="180.60" y2="384.60" stroke="#333" stroke-width="0.7"/>
<line x1="181.76" y1="382.00" x2="181.76" y2="384.60" stroke="#333" stroke-width="0.7"/>
<line x1="182.80" y1="381.50" x2="182.80" y2="386.00" stroke="#222" stroke-width="1.1"/>
<line x1="189.63" y1="382.00" x2="189.63" y2="384.60" stroke="#333" stroke-width="0.7"/>
<line x1="193.63" y1="382.00" x2="193.63" y2="384.60" stroke="#333" stroke-width="0.7"/>
<line x1="196.47" y1="382.00" x2="196.47" y2="384.60" stroke="#333" stroke-width="0.7"/>
<line x1="198.67" y1="382.00" x2="198.67" y2="384.60" stroke="#333" stroke-width="0.7"/>
<line x1="200.46" y1="382.00" x2="200.46" y2="384.60" stroke="#333" stroke-width="0.7"/>
<line x1="201.98" y1="382.00" x2="201.98" y2="384.60" stroke="#333" stroke-width="0.7"/>
<line x1="203.30" y1="382.00" x2="203.30" y2="384.60" stroke="#333" stroke-width="0.7"/>
<line x1="204.46" y1="382.00" x2="204.46" y2="384.60" stroke="#333" stroke-width="0.7"/>
<line x1="205.50" y1="381.50" x2="205.50" y2="386.00" stroke="#222" stroke-width="1.1"/>
<line x1="212.33" y1="382.00" x2="212.33" y2="384.60" stroke="#333" stroke-width="0.7"/>
<line x1="216.33" y1="382.00" x2="216.33" y2="384.60" stroke="#333" stroke-width="0.7"/>
<line x1="219.17" y1="382.00" x2="219.17" y2="384.60" stroke="#333" stroke-width="0.7"/>
<line x1="221.37" y1="382.00" x2="221.37" y2="384.60" stroke="#333" stroke-width="0.7"/>
<line x1="223.16" y1="382.00" x2="223.16" y2="384.60" stroke="#333" stroke-width="0.7"/>
<line x1="224.68" y1="382.00" x2="224.68" y2="384.60" stroke="#333" stroke-width="0.7"/>
<line x1="226.00" y1="382.00" x2="226.00" y2="384.60" stroke="#333" stroke-width="0.7"/>
<line x1="227.16" y1="382.00" x2="227.16" y2="384.60" stroke="#333" stroke-width="0.7"/>
<line x1="228.20" y1="381.50" x2="228.20" y2="386.00" stroke="#222" stroke-width="1.1"/>
<line x1="235.03" y1="382.00" x2="235.03" y2="384.60" stroke="#333" stroke-width="0.7"/>
<line x1="69.30" y1="379.00" x2="69.30" y2="386.00" stroke="#222" stroke-width="1.1"/>
<text x="71.9" y="396.5" font-size="8" fill="#303030" color="#303030">10<tspan font-size="5.20" dy="-3.3">0</tspan></text>
<text x="110.4" y="396.5" font-size="8" fill="#303030" color="#303030">10<tspan font-size="5.20" dy="-3.3">2</tspan></text>
<text x="156" y="396.5" font-size="8" fill="#303030" color="#303030">10<tspan font-size="5.20" dy="-3.3">4</tspan></text>
<text x="202.4" y="396.5" font-size="8" fill="#303030" color="#303030">10<tspan font-size="5.20" dy="-3.3">6</tspan></text>
<text x="115.9" y="408.8" font-size="8.51" text-anchor="start" fill="#303030" color="#303030" textLength="74" lengthAdjust="spacingAndGlyphs">Fibrinogen Alexa-488</text>
<text transform="translate(61.6,299.8) rotate(-90)" x="0" y="0" font-size="8.19" text-anchor="middle" fill="#303030" color="#303030" textLength="70" lengthAdjust="spacingAndGlyphs">Normalised to mode</text>
<text x="285.4" y="210.8" font-size="11" text-anchor="start" fill="#111" color="#111" font-weight="bold">L</text>
<polyline points="335.7,221 335.7,215.2 421.3,215.2 421.3,221" fill="none" stroke="#222" stroke-width="1"/>
<text x="378.6" y="213.4" font-size="8.6" text-anchor="middle" fill="#303030" color="#303030" font-weight="bold">*</text>
<polyline points="335.7,244 335.7,238.3 370.3,238.3 370.3,244" fill="none" stroke="#222" stroke-width="1"/>
<text x="353" y="237.20000000000002" font-size="8.6" text-anchor="middle" fill="#303030" color="#303030" font-weight="bold">**</text>
<polyline points="335.7,267 335.7,261.3 353,261.3 353,267" fill="none" stroke="#222" stroke-width="1"/>
<text x="344.3" y="260.7" font-size="8.6" text-anchor="middle" fill="#303030" color="#303030" font-weight="bold">**</text>
<line x1="324.60" y1="266.50" x2="324.60" y2="378.30" stroke="#111" stroke-width="1.3"/>
<line x1="320.80" y1="269.20" x2="324.60" y2="269.20" stroke="#111" stroke-width="1"/>
<text x="317.8" y="271.7" font-size="8.51" text-anchor="end" fill="#303030" color="#303030" textLength="13.51" lengthAdjust="spacingAndGlyphs">100</text>
<line x1="320.80" y1="323.50" x2="324.60" y2="323.50" stroke="#111" stroke-width="1"/>
<text x="317.8" y="326.0" font-size="8.51" text-anchor="end" fill="#303030" color="#303030" textLength="9.01" lengthAdjust="spacingAndGlyphs">50</text>
<line x1="320.80" y1="377.70" x2="324.60" y2="377.70" stroke="#111" stroke-width="1"/>
<text x="317.8" y="380.2" font-size="8.51" text-anchor="end" fill="#303030" color="#303030" textLength="4.5" lengthAdjust="spacingAndGlyphs">0</text>
<text transform="translate(298.3,324.6) rotate(-90)" x="0" y="0" font-size="8.3" text-anchor="middle" fill="#303030" color="#303030">CD41<tspan font-size="5" dy="-3">+</tspan><tspan dy="3"> fibrinogen</tspan><tspan font-size="5" dy="-3">+</tspan><tspan dy="3"> (%)</tspan></text>
<rect x="348.6" y="312" width="9.8" height="65.7" fill="#aacdee"/>
<rect x="365.6" y="307.6" width="9.4" height="70.1" fill="#c8c2e2"/>
<rect x="382.3" y="372" width="10.1" height="5.7" fill="#34b3b5"/>
<rect x="399" y="362.7" width="9.8" height="15" fill="#2a7877"/>
<rect x="416" y="340.2" width="9.6" height="37.5" fill="#2d2b7c"/>
<line x1="335.60" y1="376.50" x2="335.60" y2="372.30" stroke="#222" stroke-width="0.9"/>
<line x1="333.10" y1="372.30" x2="338.10" y2="372.30" stroke="#222" stroke-width="0.9"/>
<line x1="353.50" y1="312.00" x2="353.50" y2="281.00" stroke="#222" stroke-width="0.9"/>
<line x1="351.00" y1="281.00" x2="356.00" y2="281.00" stroke="#222" stroke-width="0.9"/>
<line x1="370.30" y1="307.60" x2="370.30" y2="277.30" stroke="#222" stroke-width="0.9"/>
<line x1="367.80" y1="277.30" x2="372.80" y2="277.30" stroke="#222" stroke-width="0.9"/>
<line x1="387.40" y1="372.00" x2="387.40" y2="366.00" stroke="#222" stroke-width="0.9"/>
<line x1="384.90" y1="366.00" x2="389.90" y2="366.00" stroke="#222" stroke-width="0.9"/>
<line x1="404.00" y1="362.70" x2="404.00" y2="353.70" stroke="#222" stroke-width="0.9"/>
<line x1="401.50" y1="353.70" x2="406.50" y2="353.70" stroke="#222" stroke-width="0.9"/>
<line x1="421.00" y1="340.20" x2="421.00" y2="332.00" stroke="#222" stroke-width="0.9"/>
<line x1="418.50" y1="332.00" x2="423.50" y2="332.00" stroke="#222" stroke-width="0.9"/>
<circle cx="335.8" cy="370" r="1.7" fill="#111"/>
<circle cx="334.2" cy="375" r="1.7" fill="#111"/>
<circle cx="331.5" cy="377.3" r="1.7" fill="#111"/>
<circle cx="337.1" cy="376.8" r="1.7" fill="#111"/>
<circle cx="340" cy="375.4" r="1.7" fill="#111"/>
<circle cx="352.9" cy="281.6" r="1.7" fill="#111"/>
<circle cx="352.9" cy="294" r="1.7" fill="#111"/>
<circle cx="352.9" cy="312.5" r="1.7" fill="#111"/>
<circle cx="352.9" cy="361.2" r="1.7" fill="#111"/>
<circle cx="370.2" cy="273.8" r="1.7" fill="#111"/>
<circle cx="365.6" cy="295.5" r="1.7" fill="#111"/>
<circle cx="374.2" cy="293.2" r="1.7" fill="#111"/>
<circle cx="370.2" cy="321.1" r="1.7" fill="#111"/>
<circle cx="370.2" cy="352.3" r="1.7" fill="#111"/>
<circle cx="387.5" cy="364.7" r="1.7" fill="#111"/>
<circle cx="383.2" cy="372.8" r="1.7" fill="#111"/>
<circle cx="391" cy="372.8" r="1.7" fill="#111"/>
<circle cx="387.5" cy="375.7" r="1.7" fill="#111"/>
<circle cx="399.6" cy="355.2" r="1.7" fill="#111"/>
<circle cx="408.3" cy="354.6" r="1.7" fill="#111"/>
<circle cx="404" cy="364.7" r="1.7" fill="#111"/>
<circle cx="404" cy="373.4" r="1.7" fill="#111"/>
<circle cx="421.2" cy="329.2" r="1.7" fill="#111"/>
<circle cx="417" cy="339.6" r="1.7" fill="#111"/>
<circle cx="425" cy="340.8" r="1.7" fill="#111"/>
<circle cx="421.2" cy="348.8" r="1.7" fill="#111"/>
<line x1="324.00" y1="377.70" x2="432.80" y2="377.70" stroke="#111" stroke-width="1.3"/>
<line x1="335.80" y1="377.70" x2="335.80" y2="380.40" stroke="#111" stroke-width="0.8"/>
<line x1="353.50" y1="377.70" x2="353.50" y2="380.40" stroke="#111" stroke-width="0.8"/>
<line x1="370.30" y1="377.70" x2="370.30" y2="380.40" stroke="#111" stroke-width="0.8"/>
<line x1="387.40" y1="377.70" x2="387.40" y2="380.40" stroke="#111" stroke-width="0.8"/>
<line x1="404.00" y1="377.70" x2="404.00" y2="380.40" stroke="#111" stroke-width="0.8"/>
<line x1="421.00" y1="377.70" x2="421.00" y2="380.40" stroke="#111" stroke-width="0.8"/>
<text transform="translate(338.5,386.5) rotate(-45)" x="0" y="0" font-size="8.4" text-anchor="end" fill="#303030" color="#303030" textLength="25.79" lengthAdjust="spacingAndGlyphs">Control</text>
<text transform="translate(355.5,386.5) rotate(-45)" x="0" y="0" font-size="8.4" text-anchor="end" fill="#303030" color="#303030" textLength="16.89" lengthAdjust="spacingAndGlyphs">CRP</text>
<text transform="translate(372,386.5) rotate(-45)" x="0" y="0" font-size="8.4" text-anchor="end" fill="#303030" color="#303030" textLength="26" lengthAdjust="spacingAndGlyphs">TRAP-6</text>
<text transform="translate(390.2,386.2) rotate(-45)" x="0" y="0" font-size="8.4" text-anchor="end" fill="#303030" color="#303030" textLength="8.9" lengthAdjust="spacingAndGlyphs">10</text>
<text transform="translate(406.5,386.2) rotate(-45)" x="0" y="0" font-size="8.4" text-anchor="end" fill="#303030" color="#303030" textLength="8.9" lengthAdjust="spacingAndGlyphs">20</text>
<text transform="translate(425.2,386.2) rotate(-45)" x="0" y="0" font-size="8.4" text-anchor="end" fill="#303030" color="#303030" textLength="8.9" lengthAdjust="spacingAndGlyphs">40</text>
<line x1="380.50" y1="397.50" x2="427.50" y2="397.50" stroke="#333" stroke-width="1"/>
<text x="405.6" y="409.2" font-size="8.4" text-anchor="middle" fill="#303030" color="#303030" textLength="41" lengthAdjust="spacingAndGlyphs">S100A8/A9</text>
<text x="404.75" y="418.2" font-size="8.4" text-anchor="middle" fill="#303030" color="#303030" textLength="25.05" lengthAdjust="spacingAndGlyphs">(µg/ml)</text>
</svg></body></html>
